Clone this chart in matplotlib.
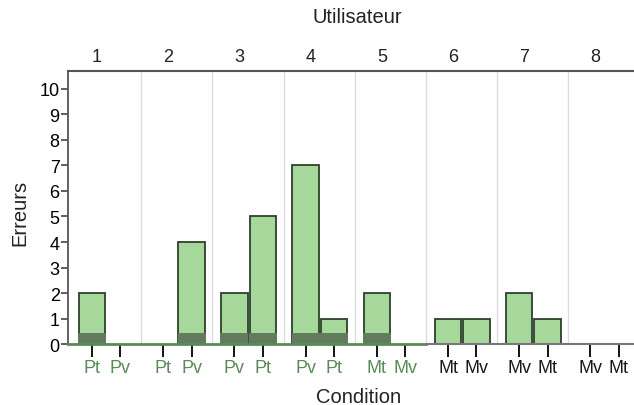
import matplotlib.pyplot as plt
import numpy as np

# Data
users = ['1', '2', '3', '4', '5', '6', '7', '8']
cond_a = ['Pt', 'Pt', 'Pv', 'Pv', 'Mt', 'Mt', 'Mv', 'Mv']
cond_b = ['Pv', 'Pv', 'Pt', 'Pt', 'Mv', 'Mv', 'Mt', 'Mt']
err_a = [2, 0, 2, 7, 2, 1, 2, 0]
err_b = [0, 4, 5, 1, 0, 1, 1, 0]
# users with the dark base band / green labels
marked = [True, True, True, True, True, False, False, False]

plt.rcParams['font.family'] = ['Liberation Sans', 'DejaVu Sans']

bar_fill = '#a6d89c'
bar_edge = '#2f3f2c'
band_col = '#607c5c'
green_txt = '#5a8a56'

fig = plt.figure(figsize=(6.34, 4.06), dpi=100)
ax = fig.add_axes([0.1073, 0.150, 0.8927, 0.6727])

group_w = 2.5
n = len(users)
xa = np.arange(n) * group_w + 0.77
xb = xa + 1.0
width = 0.93

lw_a = [1.3 if v > 0 else 0 for v in err_a]
lw_b = [1.3 if v > 0 else 0 for v in err_b]
ax.bar(xa, err_a, width=width, color=bar_fill, edgecolor=bar_edge, linewidth=lw_a, zorder=3)
ax.bar(xb, err_b, width=width, color=bar_fill, edgecolor=bar_edge, linewidth=lw_b, zorder=3)

# dark base band on bars of users 1-5
for i in range(n):
    if not marked[i]:
        continue
    for x, v in ((xa[i], err_a[i]), (xb[i], err_b[i])):
        if v > 0:
            ax.bar(x, 0.42, width=width + 0.05, color=band_col, linewidth=0, zorder=4)

# group separators
for i in range(1, n):
    ax.axvline(i * group_w, color='#dcdcdc', linewidth=1.0, zorder=1)

ax.set_xlim(-0.07, 19.8)
ax.set_ylim(0, 10.7)

# x ticks (conditions)
pos = np.concatenate([xa, xb])
labs = cond_a + cond_b
order = np.argsort(pos)
pos = pos[order]
labs = [labs[k] for k in order]
ax.set_xticks(pos)
ax.set_xticklabels(labs, fontsize=13)
ax.tick_params(axis='x', length=9, width=1.3, pad=2)
for k, (t, lbl) in enumerate(zip(ax.xaxis.get_major_ticks(), ax.get_xticklabels())):
    col = green_txt if marked[k // 2] else '#1a1a1a'
    t.tick1line.set_color(col)
    lbl.set_color(col)

ax.set_yticks(range(0, 11))
ax.tick_params(axis='y', length=5, width=1.2, labelsize=13, color='#444444', pad=1)

ax.spines['right'].set_visible(False)
ax.spines['bottom'].set_visible(False)
ax.spines['left'].set_color('#555555')
ax.spines['left'].set_linewidth(1.3)
ax.spines['top'].set_color('#555555')
ax.spines['top'].set_linewidth(1.5)

# bottom axis line: green under users 1-5, grey after
split = sum(marked) * group_w
ax.plot([-0.07, split], [0, 0], color=green_txt, linewidth=2, clip_on=False, zorder=5)
ax.plot([split, 19.8], [0, 0], color='#777777', linewidth=1.5, clip_on=False, zorder=5)

# user labels on top
for i, u in enumerate(users):
    ax.text(i * group_w + group_w / 2 - 0.3, 10.95, u, ha='center', va='bottom', fontsize=13, color='#222222')

fig.text(0.563, 0.956, 'Utilisateur', ha='center', va='center', fontsize=14.5, color='#222222')
fig.text(0.565, 0.022, 'Condition', ha='center', va='center', fontsize=14.5, color='#222222')
fig.text(0.032, 0.475, 'Erreurs', ha='center', va='center', rotation=90, fontsize=14.5, color='#222222')

plt.savefig('out.png', dpi=100)
